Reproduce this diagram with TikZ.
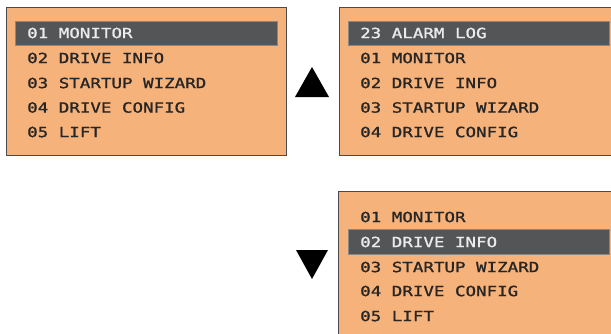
\documentclass[tikz,border=0pt]{standalone}
\usepackage{fontspec}
\newfontfamily\lcdfont[FakeStretch=1.25,FakeBold=1.2]{DejaVu Sans Mono}
\definecolor{panelfill}{HTML}{F6B27B}
\definecolor{barfill}{HTML}{545556}
\definecolor{panelline}{HTML}{4A4A4A}
\tikzset{
  panel/.style={draw=panelline, line width=0.9pt, fill=panelfill},
  bar/.style={fill=barfill, draw=barfill!70!white, line width=0.5pt},
  item/.style={anchor=west, inner sep=0pt, font=\lcdfont\fontsize{14}{15}\selectfont, text=black!85},
  selitem/.style={item, text=white!92!black},
  arrowtri/.style={fill=black, draw=none}
}
\begin{document}
\begin{tikzpicture}[x=1pt,y=-1pt]
\useasboundingbox (0,0) rectangle (611,333);
\clip (0,0) rectangle (611,333);
% Panel 1
\path[panel] (6,7.5) rectangle (286,155);
\path[bar] (15,21) rectangle (277,45);
\node[selitem] (p1a) at (27,33) {01 MONITOR};
\node[item] (p1b) at (27,58) {02 DRIVE INFO};
\node[item] (p1c) at (27,83) {03 STARTUP WIZARD};
\node[item] (p1d) at (27,107.5) {04 DRIVE CONFIG};
\node[item] (p1e) at (27,132) {05 LIFT};
% Up triangle
\path[arrowtri] (295,97) -- (312,67) -- (329,97) -- cycle;
% Panel 2
\path[panel] (339,7.5) rectangle (614,155);
\path[bar] (348,21) rectangle (609,45.5);
\node[selitem] (p2a) at (360,33) {23 ALARM LOG};
\node[item] (p2b) at (360,58) {01 MONITOR};
\node[item] (p2c) at (360,83) {02 DRIVE INFO};
\node[item] (p2d) at (360,107.5) {03 STARTUP WIZARD};
\node[item] (p2e) at (360,132) {04 DRIVE CONFIG};
% Down triangle
\path[arrowtri] (296,250) -- (328,250) -- (312,279) -- cycle;
% Panel 3
\path[panel] (338,191) rectangle (614,345);
\path[bar] (348,229) rectangle (609,254);
\node[item] (p3a) at (360,217) {01 MONITOR};
\node[selitem] (p3b) at (360,242) {02 DRIVE INFO};
\node[item] (p3c) at (360,267) {03 STARTUP WIZARD};
\node[item] (p3d) at (360,291) {04 DRIVE CONFIG};
\node[item] (p3e) at (360,316) {05 LIFT};
\end{tikzpicture}
\end{document}
